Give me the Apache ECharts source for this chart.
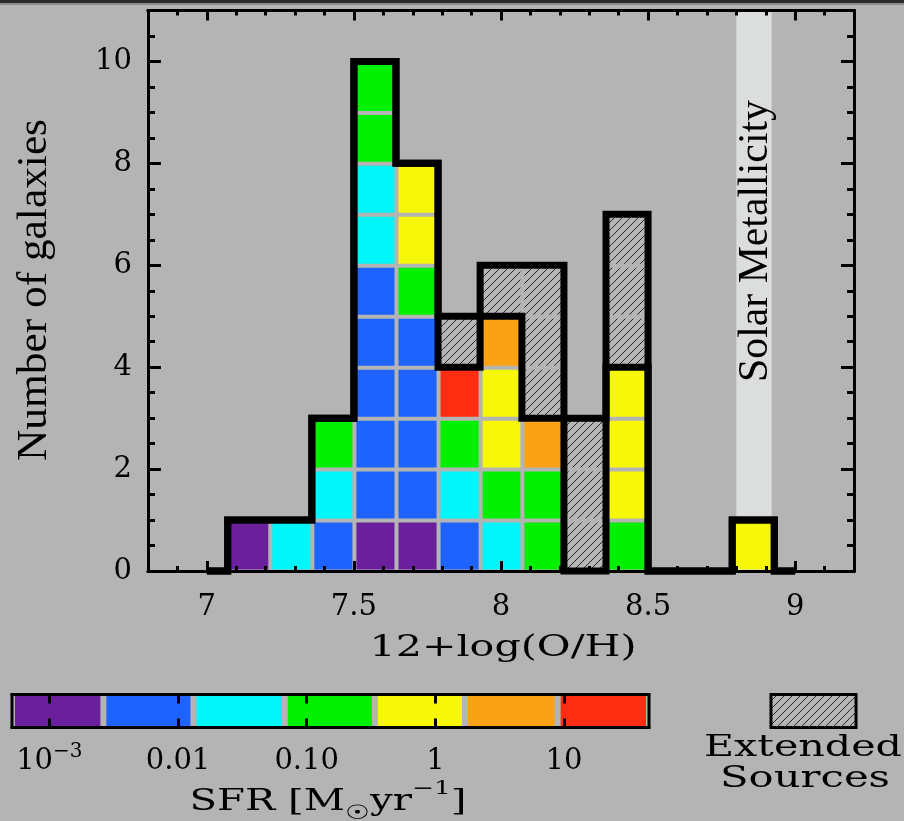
<!DOCTYPE html>
<html><head><meta charset="utf-8">
<script src="https://cdn.jsdelivr.net/npm/echarts@6/dist/echarts.min.js"></script>
<style>html,body{margin:0;padding:0;background:#b4b4b4;} #c{width:904px;height:821px;}</style>
</head><body><div id="c"></div>
<script>
// ---------------- DATA ----------------
// histogram bin edges in 12+log(O/H)
const binEdges = [7.071, 7.214, 7.357, 7.500, 7.643, 7.786, 7.929, 8.071, 8.214, 8.357, 8.500, 8.643, 8.786, 8.929];
// number of compact galaxies per bin in each SFR class (stacked bottom to top in this order)
const countsSfr1e3  = [1,0,0,1,1,0,0,0,0,0,0,0,0]; // purple
const countsSfr001  = [0,0,1,5,4,1,0,0,0,0,0,0,0]; // blue
const countsSfr003  = [0,1,1,2,0,1,1,0,0,0,0,0,0]; // cyan
const countsSfr010  = [0,0,1,2,1,1,1,2,0,1,0,0,0]; // green
const countsSfr1    = [0,0,0,0,2,0,2,0,0,3,0,0,1]; // yellow
const countsSfr3    = [0,0,0,0,0,0,1,1,0,0,0,0,0]; // orange
const countsSfr10   = [0,0,0,0,0,1,0,0,0,0,0,0,0]; // red
const countsExtended = [0,0,0,0,0,1,1,3,3,3,0,0,0]; // hatched
const histRange = [7.0, 9.0];
const solarBand = [8.80, 8.92];
const xTickLabels = [7, 7.5, 8, 8.5, 9];
const yTickLabels = [0, 2, 4, 6, 8, 10];
const sfrClassEdges = [-3.29, -2.58, -1.88, -1.17, -0.47, 0.23, 0.95, 1.66]; // log10 SFR
const sfrTickValues = [-3, -2, -1, 0, 1];
const sfrTickLabels = ['10^-3', '0.01', '0.10', '1', '10'];
const sfrColors = ['#6a1f9c', '#1f63ff', '#00f6f8', '#00f000', '#f7f708', '#fba114', '#ff2e12'];

// ---------------- BUILD ----------------
const classCounts = [countsSfr1e3, countsSfr001, countsSfr003, countsSfr010, countsSfr1, countsSfr3, countsSfr10];
const nBins = binEdges.length - 1;
const compactTot = [], allTot = [], cells = [];
for (let i = 0; i < nBins; i++) {
  let base = 0;
  classCounts.forEach((arr, c) => {
    for (let k = 0; k < arr[i]; k++) { cells.push([binEdges[i], binEdges[i+1], base, base+1, c]); base++; }
  });
  compactTot.push(base);
  for (let k = 0; k < countsExtended[i]; k++) { cells.push([binEdges[i], binEdges[i+1], base, base+1, 7]); base++; }
  allTot.push(base);
}
const xMinor = []; for (let k = 68; k <= 92; k++) if (k % 5 !== 0) xMinor.push(k / 10);
const yMinor = []; for (let k = 1; k <= 21; k++) if (k % 4 !== 0) yMinor.push(k / 2);

// hatch pattern
const pc = document.createElement('canvas'); pc.width = 8; pc.height = 8;
const pctx = pc.getContext('2d');
pctx.fillStyle = '#b6b6b6'; pctx.fillRect(0,0,8,8);
pctx.strokeStyle = '#262626'; pctx.lineWidth = 1;
pctx.beginPath(); pctx.moveTo(-1, 9); pctx.lineTo(9, -1); pctx.stroke();
const hatch = { image: pc, repeat: 'repeat' };

const mctx = document.createElement('canvas').getContext('2d');
function tw(t, font) { mctx.font = font; return mctx.measureText(t).width; }

const LAB = { color: '#000', fontFamily: 'DejaVu Serif', fontSize: 29 };
const BLK = '#000';
function tickAx(base, vals, len, labels) {
  return Object.assign({
    type: 'value', splitLine: { show: false }, z: 5,
    axisLine: { show: true, onZero: false, lineStyle: { color: BLK, width: 3 } },
    axisTick: { show: true, inside: true, length: len, customValues: vals, lineStyle: { color: BLK, width: 3 } },
    axisLabel: labels ? Object.assign({ customValues: vals }, labels) : { show: false }
  }, base);
}

const xAxes = [
  tickAx({ gridIndex: 0, min: 6.8, max: 9.2, position: 'bottom' }, xTickLabels, 10,
    Object.assign({ formatter: v => String(v), margin: 22 }, LAB)),
  tickAx({ gridIndex: 0, min: 6.8, max: 9.2, position: 'bottom' }, xMinor, 5),
  tickAx({ gridIndex: 0, min: 6.8, max: 9.2, position: 'top' }, xTickLabels, 10),
  tickAx({ gridIndex: 0, min: 6.8, max: 9.2, position: 'top' }, xMinor, 5),
  tickAx({ gridIndex: 1, min: sfrClassEdges[0], max: sfrClassEdges[7], position: 'bottom' }, sfrTickValues, 9, {
    margin: 14,
    formatter: v => {
      const s = sfrTickLabels[sfrTickValues.indexOf(v)];
      if (s.indexOf('^') >= 0) { const p = s.split('^'); return '{b|' + p[0] + '}{s|' + p[1].replace('-', '\u2212') + '}'; }
      return '{b|' + s + '}';
    },
    rich: {
      b: { color: '#000', fontFamily: 'DejaVu Serif', fontSize: 29, lineHeight: 40 },
      s: { color: '#000', fontFamily: 'DejaVu Serif', fontSize: 20, lineHeight: 20, verticalAlign: 'top' }
    }
  }),
  tickAx({ gridIndex: 1, min: sfrClassEdges[0], max: sfrClassEdges[7], position: 'top' }, sfrTickValues, 9)
];

const yAxes = [
  tickAx({ gridIndex: 0, min: 0, max: 11, position: 'left' }, yTickLabels, 13,
    Object.assign({ formatter: v => String(v), margin: 16 }, LAB)),
  tickAx({ gridIndex: 0, min: 0, max: 11, position: 'left' }, yMinor, 7),
  tickAx({ gridIndex: 0, min: 0, max: 11, position: 'right' }, yTickLabels, 13),
  tickAx({ gridIndex: 0, min: 0, max: 11, position: 'right' }, yMinor, 7),
  { gridIndex: 1, type: 'value', min: 0, max: 1, show: false }
];

function stepLine(h, api) {
  const pts = [[histRange[0], 0], [binEdges[0], 0]];
  for (let i = 0; i < nBins; i++) { pts.push([binEdges[i], h[i]]); pts.push([binEdges[i+1], h[i]]); }
  pts.push([binEdges[nBins], 0]); pts.push([histRange[1], 0]);
  return pts.map(p => api.coord(p));
}

// text fitting
const yTitleFont = '43px "Liberation Serif"';
const solarFont = '42px "Liberation Serif"';
const xTitleFont = '29px "DejaVu Serif"';
const legFont = '29px "DejaVu Serif"';
const sfrParts = [['SFR [M', 29], ['\u2609', 20], ['yr', 29], ['\u22121', 19], [']', 29]];
let sfrW = 0; sfrParts.forEach(p => sfrW += tw(p[0], p[1] + 'px "DejaVu Serif"'));

const option = {
  animation: false,
  backgroundColor: '#b4b4b4',
  grid: [
    { left: 148, top: 10.5, width: 706, height: 560.5, show: false },
    { left: 12, top: 694.5, width: 637, height: 33, show: true, borderColor: '#000', borderWidth: 3, backgroundColor: 'transparent' }
  ],
  xAxis: xAxes,
  yAxis: yAxes,
  series: [
    { type: 'custom', xAxisIndex: 0, yAxisIndex: 0, z: 1, data: [[solarBand[0], solarBand[1]]], encode: { x: [0, 1] },
      renderItem: (p, api) => {
        const a = api.coord([api.value(0), 11]), b = api.coord([api.value(1), 0]);
        return { type: 'rect', shape: { x: a[0], y: a[1], width: b[0]-a[0], height: b[1]-a[1] }, style: { fill: '#dcdddd' } };
      } },
    { type: 'custom', xAxisIndex: 0, yAxisIndex: 0, z: 2, data: cells, encode: { x: [0, 1], y: [2, 3] },
      renderItem: (p, api) => {
        const a = api.coord([api.value(0), api.value(3)]), b = api.coord([api.value(1), api.value(2)]);
        const c = api.value(4);
        return { type: 'rect', shape: { x: a[0] + 2.5, y: a[1] + 2.5, width: b[0]-a[0]-4, height: b[1]-a[1]-4 },
          style: { fill: c < 7 ? sfrColors[c] : hatch } };
      } },
    { type: 'custom', xAxisIndex: 0, yAxisIndex: 0, z: 6, data: [[histRange[0], 0, 0], [histRange[0], 0, 1]], encode: { x: 0, y: 1 },
      renderItem: (p, api) => {
        const h = api.value(2) === 0 ? compactTot : allTot;
        return { type: 'polyline', shape: { points: stepLine(h, api) },
          style: { stroke: '#000', lineWidth: 7, fill: null, lineJoin: 'miter', lineCap: 'butt' } };
      } },
    { type: 'custom', xAxisIndex: 4, yAxisIndex: 4, z: 2,
      data: sfrColors.map((col, i) => [sfrClassEdges[i], sfrClassEdges[i+1], i]), encode: { x: [0, 1] },
      renderItem: (p, api) => {
        const a = api.coord([api.value(0), 1]), b = api.coord([api.value(1), 0]);
        return { type: 'rect', shape: { x: a[0] + 3, y: a[1] + 1.5, width: b[0]-a[0]-6, height: b[1]-a[1] - 3 },
          style: { fill: sfrColors[api.value(2)] } };
      } }
  ],
  graphic: [
    { type: 'rect', shape: { x: 0, y: 0, width: 904, height: 3 }, style: { fill: '#2b2b2b' }, silent: true },
    { type: 'rect', shape: { x: 0, y: 3, width: 904, height: 2 }, style: { fill: '#8c8c8c' }, silent: true },
    { type: 'text', x: 35, y: 290, rotation: Math.PI / 2, scaleX: 342 / tw('Number of galaxies', yTitleFont),
      style: { text: 'Number of galaxies', font: yTitleFont, fill: '#000', align: 'center', verticalAlign: 'middle' } },
    { type: 'text', x: 756, y: 241, rotation: Math.PI / 2, z: 10, scaleX: 282 / tw('Solar Metallicity', solarFont),
      style: { text: 'Solar Metallicity', font: solarFont, fill: '#000', align: 'center', verticalAlign: 'middle' } },
    { type: 'text', x: 503, y: 648, scaleX: 267 / tw('12+log(O/H)', xTitleFont),
      style: { text: '12+log(O/H)', font: xTitleFont, fill: '#000', align: 'center', verticalAlign: 'middle' } },
    { type: 'text', x: 328, y: 802, scaleX: 277 / sfrW,
      style: { text: '{n|SFR [M}{sub|\u2609}{n|yr}{sup|\u22121}{n|]}', fill: '#000', align: 'center', verticalAlign: 'middle',
        rich: {
          n: { fontFamily: 'DejaVu Serif', fontSize: 29, lineHeight: 44, fill: '#000' },
          sub: { fontFamily: 'DejaVu Serif', fontSize: 20, lineHeight: 20, verticalAlign: 'bottom', fill: '#000' },
          sup: { fontFamily: 'DejaVu Serif', fontSize: 19, lineHeight: 28, verticalAlign: 'top', fill: '#000' }
        } } },
    { type: 'rect', shape: { x: 771, y: 694.5, width: 85, height: 33 }, style: { fill: hatch, stroke: '#000', lineWidth: 3 } },
    { type: 'text', x: 803, y: 748, scaleX: 198 / tw('Extended', legFont),
      style: { text: 'Extended', font: legFont, fill: '#000', align: 'center', verticalAlign: 'middle' } },
    { type: 'text', x: 805, y: 779, scaleX: 170 / tw('Sources', legFont),
      style: { text: 'Sources', font: legFont, fill: '#000', align: 'center', verticalAlign: 'middle' } }
  ]
};
const chart = echarts.init(document.getElementById('c'), null, { renderer: 'canvas' });
chart.setOption(option);
</script></body></html>
